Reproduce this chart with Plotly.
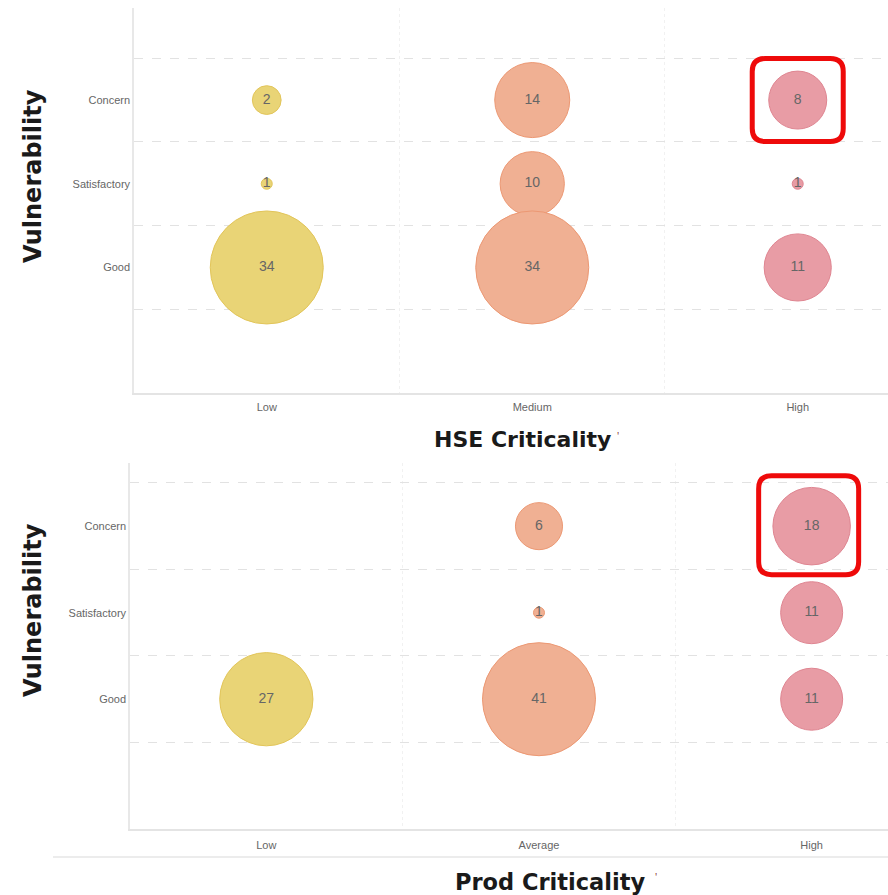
import math
import plotly.graph_objects as go

# Category orders
vuln_levels = ["Good", "Satisfactory", "Concern"]
hse_levels = ["Low", "Medium", "High"]
prod_levels = ["Low", "Average", "High"]

# HSE criticality vs vulnerability (asset counts)
hse_x = ["Low", "Low", "Low", "Medium", "Medium", "Medium", "High", "High", "High"]
hse_y = ["Concern", "Satisfactory", "Good", "Concern", "Satisfactory", "Good", "Concern", "Satisfactory", "Good"]
hse_counts = [2, 1, 34, 14, 10, 34, 8, 1, 11]

# Production criticality vs vulnerability (asset counts)
prod_x = ["Low", "Average", "Average", "Average", "High", "High", "High"]
prod_y = ["Good", "Concern", "Satisfactory", "Good", "Concern", "Satisfactory", "Good"]
prod_counts = [27, 6, 1, 41, 18, 11, 11]

W, H = 888, 895
FILLS = ["#e9d476", "#f0b093", "#e89ca5"]
EDGES = ["#e2c55a", "#ec9873", "#df8591"]
TICK_FONT = dict(family="Liberation Sans, Arial, sans-serif", size=11, color="#666666")
TITLE_FONT = dict(family="DejaVu Sans, sans-serif", size=22, color="#1a1a1a")


def bubble_diameters(values, min_px=11, max_px=113):
    """Area-based bubble scale between a minimum and maximum diameter."""
    lo, hi = min(values), max(values)
    return [min_px + math.sqrt((v - lo) / (hi - lo)) * (max_px - min_px) for v in values]


def bubble_trace(xs, ys, counts, levels, xa, ya):
    idx = [levels.index(x) for x in xs]
    return go.Scatter(
        x=xs, y=ys, xaxis=xa, yaxis=ya,
        mode="markers+text",
        text=[str(c) for c in counts],
        textposition="middle center",
        textfont=dict(family="Liberation Sans, Arial, sans-serif", size=14, color="#666666"),
        marker=dict(
            size=bubble_diameters(counts),
            sizemode="diameter",
            color=[FILLS[i] for i in idx],
            opacity=1,
            line=dict(color=[EDGES[i] for i in idx], width=1),
        ),
        hoverinfo="x+y+text",
        cliponaxis=False,
    )


def px_x(p):
    return p / W


def px_y(p):
    return 1 - p / H


fig = go.Figure()
fig.add_trace(bubble_trace(hse_x, hse_y, hse_counts, hse_levels, "x", "y"))
fig.add_trace(bubble_trace(prod_x, prod_y, prod_counts, prod_levels, "x2", "y2"))

common_x = dict(
    type="category", tickson="boundaries", showgrid=True, gridcolor="#f1f1f1",
    griddash="dot", showline=True, linecolor="#e4e4e4", linewidth=1.5,
    ticks="", tickfont=TICK_FONT, zeroline=False, fixedrange=True,
)
common_y = dict(
    type="category", categoryorder="array", categoryarray=vuln_levels,
    tickson="boundaries", showgrid=True, gridcolor="#e2e2e2", griddash="dash",
    showline=True, linecolor="#e8e8e8", linewidth=1.5, ticks="",
    tickfont=TICK_FONT, zeroline=False, fixedrange=True,
)

fig.update_layout(
    width=W, height=H,
    margin=dict(l=0, r=0, t=0, b=0),
    paper_bgcolor="white", plot_bgcolor="white",
    showlegend=False,
    xaxis=dict(common_x, domain=[px_x(134), 1], anchor="y",
               categoryorder="array", categoryarray=hse_levels,
               range=[-0.5, 2.34], ticklabelstandoff=3),
    yaxis=dict(common_y, domain=[px_y(393), px_y(8)], anchor="x",
               range=[-1.5, 3.1]),
    xaxis2=dict(common_x, domain=[px_x(130), 1], anchor="y2",
                categoryorder="array", categoryarray=prod_levels,
                range=[-0.5, 2.28], ticklabelstandoff=5),
    yaxis2=dict(common_y, domain=[px_y(829), px_y(463)], anchor="x2",
                range=[-1.5, 2.73]),
)

# Axis titles
annotations = [
    dict(text="<b>HSE Criticality</b>", x=px_x(522), y=px_y(440), font=TITLE_FONT),
    dict(text="'", x=px_x(618), y=px_y(436), font=dict(size=10, color="#7a2020")),
    dict(text="<b>Prod Criticality</b>", x=px_x(550), y=px_y(882), font=dict(TITLE_FONT, size=22.5)),
    dict(text="'", x=px_x(656), y=px_y(877), font=dict(size=10, color="#7a2020")),
    dict(text="<b>Vulnerability</b>", x=px_x(33), y=px_y(176), textangle=-90,
         font=dict(TITLE_FONT, size=24)),
    dict(text="<b>Vulnerability</b>", x=px_x(33), y=px_y(610), textangle=-90,
         font=dict(TITLE_FONT, size=24)),
]
for a in annotations:
    fig.add_annotation(xref="paper", yref="paper", showarrow=False,
                       xanchor="center", yanchor="middle", **a)

# Separator under the lower chart
fig.add_shape(type="line", xref="paper", yref="paper",
              x0=px_x(53), x1=1, y0=px_y(857), y1=px_y(857),
              line=dict(color="#e6e6e6", width=1.5))


def rounded_rect(cx, cy, hw, hh, r):
    x0, x1, y0, y1 = cx - hw, cx + hw, cy - hh, cy + hh
    return (f"M {x0 + r} {y0} L {x1 - r} {y0} Q {x1} {y0} {x1} {y0 + r} "
            f"L {x1} {y1 - r} Q {x1} {y1} {x1 - r} {y1} "
            f"L {x0 + r} {y1} Q {x0} {y1} {x0} {y1 - r} "
            f"L {x0} {y0 + r} Q {x0} {y0} {x0 + r} {y0} Z")


# Highlight boxes around the High / Concern cells
for xr, yr, cx, cy, hw, hh in [("x", "y", 0, 0, 45.5, 41.5), ("x2", "y2", -3, 1, 50, 49.5)]:
    fig.add_shape(type="path", xref=xr, yref=yr,
                  xsizemode="pixel", ysizemode="pixel", xanchor=2, yanchor=2,
                  path=rounded_rect(cx, cy, hw, hh, 13),
                  line=dict(color="#ee0a0a", width=5), fillcolor="rgba(0,0,0,0)")

fig.write_html("out.html")
